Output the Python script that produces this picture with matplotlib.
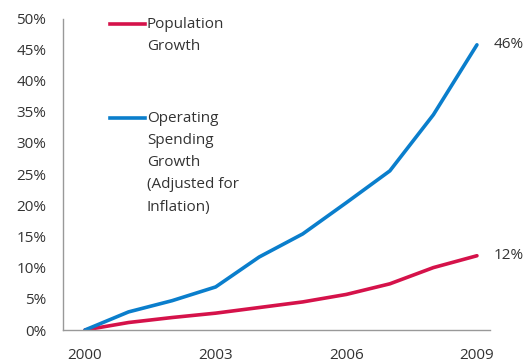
import matplotlib
matplotlib.use("Agg")
import matplotlib.pyplot as plt

years = [2000, 2001, 2002, 2003, 2004, 2005, 2006, 2007, 2008, 2009]
population = [0, 1.2, 2.0, 2.7, 3.6, 4.5, 5.7, 7.4, 10.0, 11.9]
spending = [0, 2.9, 4.7, 6.9, 11.7, 15.4, 20.4, 25.5, 34.5, 45.7]
xticks = [2000, 2003, 2006, 2009]
yticks = [0, 5, 10, 15, 20, 25, 30, 35, 40, 45, 50]

red = "#D5124A"
blue = "#0A7ECC"
txt = "#333333"

plt.rcParams['font.family'] = ['Open Sans', 'DejaVu Sans']

fig = plt.figure(figsize=(5.31, 3.62), dpi=100)
ax = fig.add_axes([63/531, 1 - 330/362, (490 - 63)/531, (330 - 18)/362])

ax.plot(years, population, color=red, lw=2.6, solid_capstyle='round')
ax.plot(years, spending, color=blue, lw=2.6, solid_capstyle='round')

ax.set_xlim(1999.495, 2009.3)
ax.set_ylim(0, 50)
ax.set_xticks(xticks)
ax.set_xticklabels([str(y) for y in xticks])
ax.set_yticks(yticks)
ax.set_yticklabels([f"{v}%" for v in yticks])
ax.tick_params(length=0, labelsize=11, colors=txt)
ax.tick_params(axis='x', pad=13)
ax.tick_params(axis='y', pad=12)

for s in ['top', 'right']:
    ax.spines[s].set_visible(False)
ax.spines['left'].set_color('#999999')
ax.spines['bottom'].set_color('#999999')
ax.spines['left'].set_linewidth(1)
ax.spines['bottom'].set_linewidth(1)
ax.spines['left'].set_bounds(0, 49.8)

# end labels
ax.annotate(f"{round(spending[-1])}%", (years[-1], spending[-1]), xytext=(12, 0),
            textcoords='offset points', va='center', ha='left', fontsize=11, color=txt)
ax.annotate(f"{round(population[-1])}%", (years[-1], population[-1]), xytext=(12, 0),
            textcoords='offset points', va='center', ha='left', fontsize=11, color=txt)

# legend drawn by hand
fig.add_artist(plt.Line2D([110/531, 145/531], [1 - 24/362, 1 - 24/362], color=red, lw=2.6))
fig.text(147/531, 1 - 17/362, "Population\nGrowth", ha='left', va='top', fontsize=11,
         color=txt, linespacing=1.65)
fig.add_artist(plt.Line2D([110/531, 145/531], [1 - 118/362, 1 - 118/362], color=blue, lw=2.6))
fig.text(147/531, 1 - 111/362, "Operating\nSpending\nGrowth\n(Adjusted for\nInflation)",
         ha='left', va='top', fontsize=11, color=txt, linespacing=1.65)

fig.savefig("out.png", dpi=100)
